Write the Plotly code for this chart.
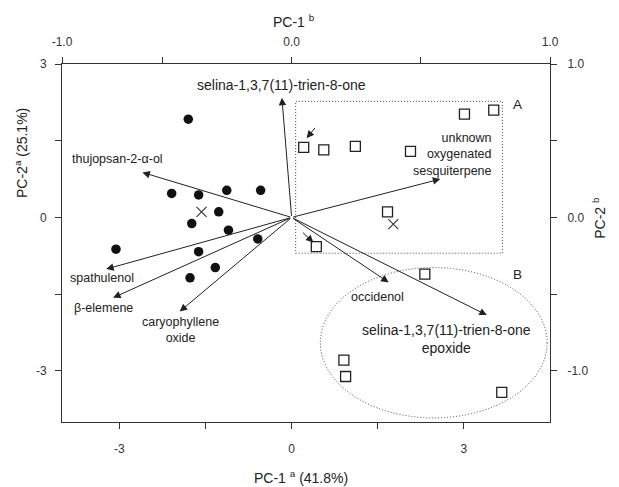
import plotly.graph_objects as go

# ---------------- data ----------------
circle_x = [-1.80, -2.09, -1.62, -1.13, -0.54, -1.27, -1.74, -1.10, -0.59, -3.06, -1.62, -1.33, -1.77]
circle_y = [1.92, 0.47, 0.44, 0.53, 0.53, 0.11, -0.12, -0.25, -0.42, -0.62, -0.67, -0.98, -1.18]

square_x = [3.01, 3.52, 0.21, 0.56, 1.11, 2.07, 1.67, 0.43, 2.32, 0.91, 0.94, 3.66]
square_y = [2.02, 2.10, 1.37, 1.32, 1.39, 1.29, 0.11, -0.57, -1.11, -2.79, -3.11, -3.42]

centroid_x = [-1.57, 1.77]
centroid_y = [0.11, -0.13]

loading_names = [
    "selina-1,3,7(11)-trien-8-one",
    "thujopsan-2-\u03b1-ol",
    "spathulenol",
    "\u03b2-elemene",
    "caryophyllene<br>oxide",
    "unknown<br>oxygenated<br>sesquiterpene",
    "occidenol",
    "selina-1,3,7(11)-trien-8-one<br>epoxide",
]
loading_x = [-0.17, -2.60, -3.23, -3.11, -1.95, 2.59, 1.69, 3.40]
loading_y = [2.34, 0.88, -1.01, -1.57, -1.84, 0.75, -1.27, -1.91]
label_x = [-0.17, -3.03, -3.30, -3.27, -1.93, 3.53, 1.50, 2.70]
label_y = [2.59, 1.15, -1.18, -1.78, -2.21, 1.24, -1.55, -2.38]
label_anchor = ["center", "center", "center", "center", "center", "right", "center", "center"]
label_size = [14, 12.5, 12.5, 12.5, 12.5, 12.5, 12.5, 14]

pointer_from_x = [0.43, 0.17]
pointer_from_y = [1.78, -0.27]
pointer_to_x = [0.26, 0.38]
pointer_to_y = [1.55, -0.49]

group_a_box = [0.07, -0.70, 3.67, 2.27]  # x0, y0, x1, y1
group_b_ellipse = [0.50, -3.92, 4.45, -0.98]
group_labels = ["A", "B"]
group_label_x = [3.94, 3.94]
group_label_y = [2.21, -1.11]

x_range = [-4, 4.5]
y_range = [-4, 3]
bottom_tickvals = [-3, 0, 3]
bottom_ticktext = ["-3", "0", "3"]
bottom_minor = [-1.5, 1.5]
top_tickvals = [-4, 0, 4.5]
top_ticktext = ["-1.0", "0.0", "1.0"]
top_minor = [-2.25, 2.25]
left_tickvals = [3, 0, -3]
left_ticktext = ["3", "0", "-3"]
left_minor = [1.5, -1.5]
right_ticktext = ["1.0", "0.0", "-1.0"]

FONT = "Liberation Sans, Arial, sans-serif"
INK = "#222222"

fig = go.Figure()

fig.add_trace(go.Scatter(x=circle_x, y=circle_y, mode="markers",
                         marker=dict(symbol="circle", size=9.5, color="#111111"),
                         showlegend=False, hoverinfo="skip"))
fig.add_trace(go.Scatter(x=square_x, y=square_y, mode="markers",
                         marker=dict(symbol="square-open", size=10, color="#222222",
                                     line=dict(width=1.3)),
                         showlegend=False, hoverinfo="skip"))
fig.add_trace(go.Scatter(x=centroid_x, y=centroid_y, mode="markers",
                         marker=dict(symbol="x-thin-open", size=10, color="#333333",
                                     line=dict(width=1.1)),
                         showlegend=False, hoverinfo="skip"))
# invisible trace to hold secondary axes
fig.add_trace(go.Scatter(x=[0], y=[0], xaxis="x2", yaxis="y2", mode="markers",
                         marker=dict(opacity=0), showlegend=False, hoverinfo="skip"))

annotations = []
for name, lx, ly, tx, ty, anc, fs in zip(loading_names, loading_x, loading_y,
                                          label_x, label_y, label_anchor, label_size):
    annotations.append(dict(x=lx, y=ly, ax=0, ay=0, xref="x", yref="y", axref="x", ayref="y",
                            text="", showarrow=True, arrowhead=2, arrowsize=1.5,
                            arrowwidth=1, arrowcolor=INK, standoff=0))
    annotations.append(dict(x=tx, y=ty, xref="x", yref="y", text=name, showarrow=False,
                            xanchor=anc, yanchor="middle", align=anc,
                            font=dict(family=FONT, size=fs, color=INK)))

for fx, fy, tx, ty in zip(pointer_from_x, pointer_from_y, pointer_to_x, pointer_to_y):
    annotations.append(dict(x=tx, y=ty, ax=fx, ay=fy, xref="x", yref="y", axref="x", ayref="y",
                            text="", showarrow=True, arrowhead=2, arrowsize=1.5,
                            arrowwidth=1, arrowcolor=INK, standoff=0))

for g, gx, gy in zip(group_labels, group_label_x, group_label_y):
    annotations.append(dict(x=gx, y=gy, xref="x", yref="y", text=g, showarrow=False,
                            font=dict(family=FONT, size=13.5, color=INK)))

# axis titles (paper coords relative to plot area: x 62-550, y 64-422 on screen)
title_font = dict(family=FONT, size=14, color=INK)
annotations += [
    dict(x=0.475, y=1.12, xref="paper", yref="paper", showarrow=False,
         xanchor="center", yanchor="middle",
         text="PC-1 <sup>b</sup>", font=title_font),
    dict(x=0.49, y=-0.155, xref="paper", yref="paper", showarrow=False,
         xanchor="center", yanchor="middle",
         text="PC-1 <sup>a</sup> (41.8%)", font=title_font),
    dict(x=-0.085, y=0.75, xref="paper", yref="paper", showarrow=False, textangle=-90,
         xanchor="center", yanchor="middle",
         text="PC-2<sup>a</sup> (25.1%)", font=title_font),
    dict(x=1.10, y=0.57, xref="paper", yref="paper", showarrow=False, textangle=-90,
         xanchor="center", yanchor="middle",
         text="PC-2 <sup>b</sup>", font=title_font),
]

dotted = dict(color="#444444", width=1, dash="1px,2px")
shapes = [
    dict(type="rect", xref="x", yref="y",
         x0=group_a_box[0], y0=group_a_box[1], x1=group_a_box[2], y1=group_a_box[3],
         line=dotted),
    dict(type="circle", xref="x", yref="y",
         x0=group_b_ellipse[0], y0=group_b_ellipse[1], x1=group_b_ellipse[2], y1=group_b_ellipse[3],
         line=dotted),
]

def axis_common(minor_vals, standoff=6):
    return dict(showgrid=False, zeroline=False, showline=True, linecolor="#333333",
                linewidth=1, ticks="outside", ticklen=6, tickwidth=1, tickcolor="#333333",
                tickfont=dict(family=FONT, size=12, color="#333333"),
                ticklabelstandoff=standoff,
                minor=dict(tickmode="array", tickvals=minor_vals, ticks="outside", ticklen=6,
                           tickwidth=1, tickcolor="#333333", showgrid=False))

# body margin of the html page is 8px; shift the figure accordingly
fig.update_layout(
    width=611, height=479,
    margin=dict(l=54, r=69, t=56, b=65),
    paper_bgcolor="white", plot_bgcolor="white",
    showlegend=False,
    xaxis=dict(range=x_range, tickmode="array", tickvals=bottom_tickvals,
               ticktext=bottom_ticktext, **axis_common(bottom_minor, 10)),
    xaxis2=dict(range=x_range, overlaying="x", side="top", tickmode="array",
                tickvals=top_tickvals, ticktext=top_ticktext, anchor="y2",
                **axis_common(top_minor, 6)),
    yaxis=dict(range=y_range, tickmode="array", tickvals=left_tickvals,
               ticktext=left_ticktext, **axis_common(left_minor, 6)),
    yaxis2=dict(range=y_range, overlaying="y", side="right", tickmode="array",
                tickvals=left_tickvals, ticktext=right_ticktext, anchor="x2",
                **axis_common(left_minor, 8)),
    annotations=annotations,
    shapes=shapes,
)

fig.write_html("out.html")
